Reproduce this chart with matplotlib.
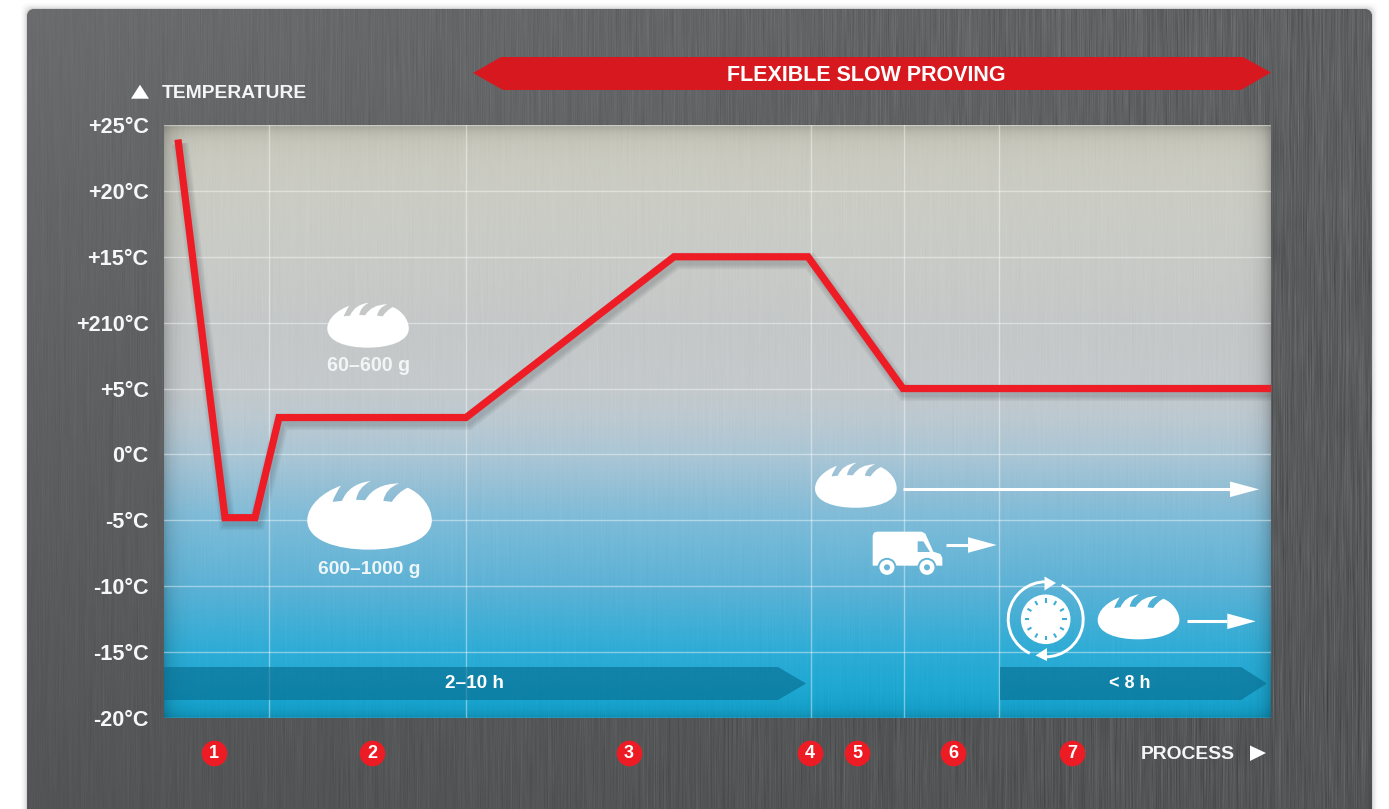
import numpy as np
import matplotlib
matplotlib.use('Agg')
import matplotlib.pyplot as plt
import matplotlib.patheffects as pe
from matplotlib.path import Path
from matplotlib.patches import PathPatch, Polygon, FancyBboxPatch, Circle, Arc, Wedge
from matplotlib.transforms import Affine2D

plt.rcParams['font.family'] = ['Liberation Sans', 'DejaVu Sans']

W, H = 1389, 809

# temperature curve
process_x = [178, 225, 255, 279, 466, 674, 808, 903, 1271]
temperature = [23.9, -4.8, -4.8, 2.8, 2.8, 15, 15, 5, 5]

temp_ticks = [-20, -15, -10, -5, 0, 5, 10, 15, 20, 25]
temp_labels = ['-20°C', '-15°C', '-10°C', '-5°C', '0°C', '+5°C', '+210°C', '+15°C', '+20°C', '+25°C']
stage_edges = [269, 466, 811, 904, 999]

stage_labels = ['1', '2', '3', '4', '5', '6', '7']
stage_x = [214, 372, 629, 810, 857, 953, 1072]

# colour of the plot background, top to bottom (pixel row, rgb)
grad_rows = [125, 200, 257, 323, 389, 420, 455, 490, 521, 587, 653, 718]
grad_cols = [(201, 201, 189), (203, 204, 196), (201, 203, 199), (197, 200, 200), (196, 201, 204),
             (187, 201, 209), (170, 198, 213), (146, 191, 214), (124, 187, 216), (92, 178, 214),
             (44, 172, 214), (18, 165, 208)]

PX, PY0, PX1, PY1 = 164, 125, 1271, 718


def streaks(rng, h, w, seg):
    # vertical brushed metal look: coarse noise stretched along y
    coarse = rng.normal(size=(h // seg + 2, w))
    rows = np.arange(h) / seg
    i = rows.astype(int)
    f = (rows - i)[:, None]
    return coarse[i] * (1 - f) + coarse[i + 1] * f


rng = np.random.default_rng(4)
tex = 0.7 * streaks(rng, H, W, 25) + 0.8 * streaks(rng, H, W, 70) + 0.25 * streaks(rng, H, W, 400)

# panel
yy, xx = np.mgrid[0:H, 0:W]
base = 108 - 24 * yy / H - 12 * (xx / W) * (1 - yy / H)
amp = 1.5 + 5.0 * xx / W
panel_grey = base + amp * tex
panel_rgb = np.dstack([panel_grey - 1, panel_grey, panel_grey + 1.5]) / 255
panel_rgb = np.clip(panel_rgb, 0, 1)

# plot background
rows = np.arange(PY0, PY1)
plot_rgb = np.zeros((PY1 - PY0, PX1 - PX, 3))
for c in range(3):
    plot_rgb[:, :, c] = np.interp(rows, grad_rows, [g[c] for g in grad_cols])[:, None]
plot_rgb = plot_rgb + 1.0 * tex[PY0:PY1, PX:PX1, None]
# darker rim on the inside of the frame
cols = np.arange(PX, PX1)
rim_x = 1 - 0.20 * np.exp(-(cols - PX) / 9.0) - 0.22 * np.exp(-(PX1 - 1 - cols) / 8.0)
rim_y = 1 - 0.18 * np.exp(-(rows - PY0) / 8.0) - 0.14 * np.exp(-(PY1 - 1 - rows) / 9.0)
plot_rgb = plot_rgb * rim_x[None, :, None] * rim_y[:, None, None]
plot_rgb = np.clip(plot_rgb / 255, 0, 1)

fig = plt.figure(figsize=(W / 100, H / 100), dpi=100, facecolor='white')

bg = fig.add_axes([0, 0, 1, 1], zorder=0)
bg.set_xlim(0, W)
bg.set_ylim(H, 0)
bg.axis('off')

# soft shadow round the panel
for grow, a in [(6, 0.02), (4, 0.03), (2.5, 0.05), (1, 0.08)]:
    bg.add_patch(FancyBboxPatch((27 - grow, 9 - grow), 1345 + 2 * grow, 900,
                                boxstyle='round,pad=0,rounding_size=8', fc='black', ec='none', alpha=a))
panel = FancyBboxPatch((27, 9), 1345, 900, boxstyle='round,pad=0,rounding_size=8', fc='#606264', ec='none')
bg.add_patch(panel)
im = bg.imshow(panel_rgb, extent=(0, W, H, 0), aspect='auto', zorder=2)
im.set_clip_path(panel)
bg.set_xlim(0, W)
bg.set_ylim(H, 0)

ax = fig.add_axes([PX / W, 1 - PY1 / H, (PX1 - PX) / W, (PY1 - PY0) / H], zorder=1)
ax.imshow(plot_rgb, extent=(PX, PX1, -20, 25), aspect='auto', zorder=0)
ax.set_xlim(PX, PX1)
ax.set_ylim(-20, 25)
ax.set_yticks(temp_ticks)
ax.set_yticklabels(temp_labels, fontsize=15.6, fontweight='bold', color='#f7f7f7')
ax.set_xticks(stage_edges)
ax.set_xticklabels([])
ax.tick_params(length=0, pad=11)
ax.grid(True, color='white', alpha=0.42, linewidth=1.0, zorder=1)
ax.set_axisbelow(True)
for s in ax.spines.values():
    s.set_visible(False)

shadow = [pe.Stroke(linewidth=w, foreground='#1c2a30', alpha=0.05, offset=(1.5, -3)) for w in (12, 10, 8, 6)]
ax.plot(process_x, temperature, color='#ee1c25', linewidth=5.2, solid_joinstyle='miter',
        solid_capstyle='butt', zorder=5, path_effects=shadow + [pe.Normal()])

ov = fig.add_axes([0, 0, 1, 1], zorder=2)
ov.set_xlim(0, W)
ov.set_ylim(H, 0)
ov.axis('off')
ov.patch.set_alpha(0)

# loaf outline, drawn on a 420 wide grid
bread_verts = [(22, 135),
               (22, 90), (70, 50), (122, 32),
               (105, 55), (97, 80),
               (125, 77),
               (146, 26), (210, 18),
               (172, 38), (167, 74),
               (194, 75),
               (222, 26), (295, 25),
               (254, 40), (248, 77),
               (273, 80),
               (293, 50), (320, 38),
               (360, 55), (392, 95), (392, 135),
               (392, 195), (300, 222), (205, 222),
               (110, 222), (22, 195), (22, 135)]
bread_codes = [Path.MOVETO,
               Path.CURVE4, Path.CURVE4, Path.CURVE4,
               Path.CURVE3, Path.CURVE3,
               Path.LINETO,
               Path.CURVE3, Path.CURVE3,
               Path.CURVE3, Path.CURVE3,
               Path.LINETO,
               Path.CURVE3, Path.CURVE3,
               Path.CURVE3, Path.CURVE3,
               Path.LINETO,
               Path.CURVE3, Path.CURVE3,
               Path.CURVE4, Path.CURVE4, Path.CURVE4,
               Path.CURVE4, Path.CURVE4, Path.CURVE4,
               Path.CURVE4, Path.CURVE4, Path.CURVE4]
bread_path = Path(bread_verts, bread_codes)


def add_bread(left, top, width):
    k = width / 370.0
    tr = Affine2D().translate(-22, -18).scale(k).translate(left, top)
    ov.add_patch(PathPatch(bread_path.transformed(tr), fc='white', ec='none'))


add_bread(327.3, 302.7, 81.5)
add_bread(307.3, 481, 124.5)
add_bread(815, 462.7, 81.7)
add_bread(1097.7, 594.3, 81.7)


def add_arrow(x0, x1, tip, y):
    ov.plot([x0, x1], [y, y], color='white', linewidth=2.2, solid_capstyle='butt')
    ov.add_patch(Polygon([(x1, y - 7.8), (tip, y), (x1, y + 7.8)], fc='white', ec='none'))


add_arrow(903.3, 1230, 1259, 489.3)
add_arrow(945.7, 968, 996.7, 545)
add_arrow(1187.3, 1227.3, 1255.7, 621.3)

# truck
tx, ty = 865, 525
def t(p):
    return (tx + p[0] / 3.0, ty + p[1] / 3.0)
truck_body = [(23, 32), (27, 23), (36, 20), (170, 20), (181, 26), (205, 80), (226, 87), (232, 98),
              (232, 122), (23, 122)]
ov.add_patch(Polygon([t(p) for p in truck_body], fc='white', ec='none', joinstyle='round'))
ov.add_patch(Polygon([t(p) for p in [(158, 49), (175, 49), (195, 81), (158, 81)]], fc='#74b9d8', ec='none'))
for wx in (66, 186):
    cx, cy = t((wx, 127))
    ov.add_patch(Wedge((cx, cy), 9.5, 180, 360, fc='#66b5d6', ec='none'))
    ov.add_patch(Circle((cx, cy), 7.5, fc='white', ec='none'))
    ov.add_patch(Circle((cx, cy), 3.0, fc='#66b5d6', ec='none'))

# clock with the two arrows around it
cx, cy = 1045.7, 619.3
ov.add_patch(Circle((cx, cy), 24.8, fc='white', ec='none'))
for deg in range(0, 360, 30):
    a = np.radians(deg)
    ov.plot([cx + 16.5 * np.cos(a), cx + 21 * np.cos(a)], [cy + 16.5 * np.sin(a), cy + 21 * np.sin(a)],
            color='#3aaed6', linewidth=1.5, solid_capstyle='butt')
ov.add_patch(Arc((cx, cy), 75, 75, theta1=115, theta2=270, color='white', linewidth=2.1))
ov.add_patch(Arc((cx, cy), 75, 75, theta1=-65, theta2=90, color='white', linewidth=2.1))
ov.add_patch(Polygon([(1044.5, 576.5), (1056, 583), (1044.5, 590.5)], fc='white', ec='none'))
ov.add_patch(Polygon([(1047, 648), (1035.5, 655.5), (1047, 661)], fc='white', ec='none'))

# duration bands
ov.add_patch(Polygon([(164, 667), (778, 667), (806, 683.5), (778, 700), (164, 700)],
                     fc='#076b8e', ec='none', alpha=0.62))
ov.add_patch(Polygon([(1000, 667), (1241, 667), (1267, 683.5), (1241, 700), (1000, 700)],
                     fc='#076b8e', ec='none', alpha=0.62))
ov.text(474, 683, '2–10 h', color='white', fontsize=13.6, fontweight='bold', ha='center', va='center')
ov.text(1130, 683.5, '< 8 h', color='white', fontsize=13, fontweight='bold', ha='center', va='center')

# banner on top
ov.add_patch(Polygon([(473, 73), (501, 57), (1243, 57), (1271, 72.5), (1241, 90), (503, 90)],
                     fc='#d7191f', ec='none'))
ov.text(866, 75.5, 'FLEXIBLE SLOW PROVING', color='white', fontsize=15.5, fontweight='bold',
        ha='center', va='center')

# axis captions
ov.add_patch(Polygon([(131, 98.7), (149, 98.7), (140, 84.7)], fc='white', ec='none'))
ov.text(162, 93.5, 'TEMPERATURE', color='#f5f5f5', fontsize=13.9, fontweight='bold', ha='left', va='center')
ov.add_patch(Polygon([(1250, 745.5), (1266, 753), (1250, 761)], fc='white', ec='none'))
ov.text(1141, 754.5, 'PROCESS', color='#f5f5f5', fontsize=13.9, fontweight='bold', ha='left', va='center')

ov.text(369, 365.5, '60–600 g', color='#f2f5f5', fontsize=14.2, fontweight='bold', ha='center', va='center')
ov.text(369, 569.5, '600–1000 g', color='#eef6fa', fontsize=13.9, fontweight='bold', ha='center', va='center')

# numbered process stages
ov.scatter(stage_x, [753] * len(stage_x), s=340, color='#ed1c24', linewidths=0, zorder=3)
for x, lab in zip(stage_x, stage_labels):
    ov.text(x, 753.5, lab, color='white', fontsize=13, fontweight='bold', ha='center', va='center', zorder=4)

ov.set_xlim(0, W)
ov.set_ylim(H, 0)
fig.savefig('out.png', dpi=100)
